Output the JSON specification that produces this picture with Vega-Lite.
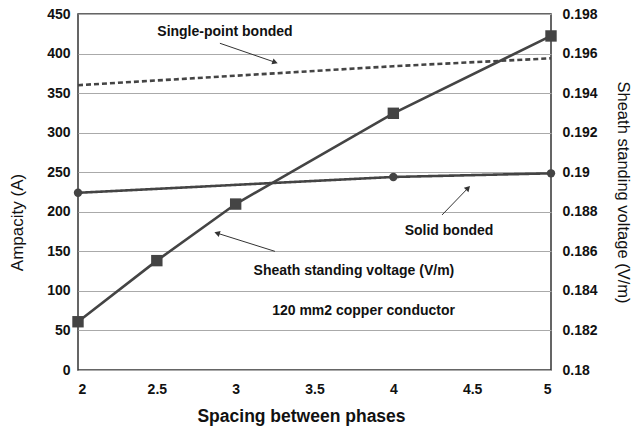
{
  "$schema": "https://vega.github.io/schema/vega-lite/v6.json",
  "width": 473,
  "height": 356,
  "autosize": "none",
  "padding": {"left": 78, "top": 14, "right": 81, "bottom": 60},
  "background": "white",
  "config": {
    "font": "Liberation Sans",
    "view": {"stroke": "#333333", "strokeWidth": 1.5},
    "axis": {"labelFont": "Liberation Sans", "labelFontWeight": "bold", "labelFontSize": 14, "labelColor": "#111", "labelOverlap": false, "titleFont": "Liberation Sans", "titleColor": "#111", "domain": false, "ticks": false}
  },
  "datasets": {
    "lines": [
      {"x": 2, "series": "Single-point bonded", "value": 360},
      {"x": 3, "series": "Single-point bonded", "value": 372},
      {"x": 4, "series": "Single-point bonded", "value": 384},
      {"x": 5, "series": "Single-point bonded", "value": 394},
      {"x": 2, "series": "Solid bonded", "value": 224},
      {"x": 4, "series": "Solid bonded", "value": 244},
      {"x": 5, "series": "Solid bonded", "value": 248.6}
    ],
    "volt": [
      {"x": 2, "v": 0.18244},
      {"x": 2.5, "v": 0.18553},
      {"x": 3, "v": 0.18839},
      {"x": 4, "v": 0.19298},
      {"x": 5, "v": 0.19689}
    ],
    "notes": [
      {"x": 2.932, "value": 427, "text": "Single-point bonded"},
      {"x": 4.353, "value": 176, "text": "Solid bonded"},
      {"x": 3.75, "value": 125, "text": "Sheath standing voltage (V/m)"},
      {"x": 3.811, "value": 74.6, "text": "120 mm2 copper conductor"}
    ],
    "arrows": [
      {"x": 2.90, "value": 413, "x2": 3.25, "value2": 389, "angle": 109},
      {"x": 4.309, "value": 196, "x2": 4.474, "value2": 230, "angle": 44},
      {"x": 3.249, "value": 150, "x2": 2.882, "value2": 173, "angle": 287}
    ]
  },
  "layer": [
    {
      "encoding": {
        "x": {"field": "x", "type": "quantitative", "scale": {"domain": [2, 5], "nice": false}, "axis": {"values": [2, 2.5, 3, 3.5, 4, 4.5, 5], "format": "~g", "grid": false, "labelPadding": 12, "title": "Spacing between phases", "titleFontSize": 17.5, "titleFontWeight": "bold", "titleX": 223, "titleY": 46, "titleBaseline": "middle", "titleAlign": "center"}},
        "y": {"field": "value", "type": "quantitative", "scale": {"domain": [0, 450], "nice": false}, "axis": {"values": [0, 50, 100, 150, 200, 250, 300, 350, 400, 450], "tickCount": 10, "grid": true, "gridColor": "#aaaaaa", "gridWidth": 1, "labelPadding": 8, "title": "Ampacity (A)", "titleFontSize": 17, "titleFontWeight": "normal", "titleX": -61, "titleY": 208, "titleBaseline": "middle", "titleAlign": "center"}}
      },
      "layer": [
        {
          "data": {"name": "lines"},
          "mark": {"type": "line", "color": "#444444", "strokeWidth": 2.6},
          "encoding": {
            "strokeDash": {"field": "series", "type": "nominal", "scale": {"domain": ["Single-point bonded", "Solid bonded"], "range": [[5, 3], [1, 0]]}, "legend": null}
          }
        },
        {
          "data": {"name": "lines"},
          "transform": [{"filter": "datum.series === 'Solid bonded'"}],
          "mark": {"type": "point", "shape": "circle", "filled": true, "color": "#444444", "size": 70, "opacity": 1}
        },
        {
          "data": {"name": "notes"},
          "mark": {"type": "text", "font": "Liberation Sans", "fontWeight": "bold", "fontSize": 14, "color": "#111", "align": "center", "baseline": "middle"},
          "encoding": {
            "text": {"field": "text"}
          }
        },
        {
          "data": {"name": "arrows"},
          "mark": {"type": "rule", "color": "#333333", "strokeWidth": 1},
          "encoding": {
            "x2": {"field": "x2"},
            "y2": {"field": "value2"}
          }
        },
        {
          "data": {"name": "arrows"},
          "mark": {"type": "point", "shape": "triangle-up", "filled": true, "color": "#333333", "size": 40, "opacity": 1},
          "encoding": {
            "x": {"field": "x2", "type": "quantitative"},
            "y": {"field": "value2", "type": "quantitative"},
            "angle": {"field": "angle", "type": "quantitative", "scale": null}
          }
        }
      ]
    },
    {
      "data": {"name": "volt"},
      "layer": [
        {"mark": {"type": "line", "color": "#444444", "strokeWidth": 2.6}},
        {"mark": {"type": "point", "shape": "square", "filled": true, "color": "#444444", "size": 130, "opacity": 1}}
      ],
      "encoding": {
        "x": {"field": "x", "type": "quantitative"},
        "y": {"field": "v", "type": "quantitative", "scale": {"domain": [0.18, 0.198], "nice": false, "zero": false}, "axis": {"orient": "right", "values": [0.18, 0.182, 0.184, 0.186, 0.188, 0.19, 0.192, 0.194, 0.196, 0.198], "format": "~g", "grid": false, "labelPadding": 11, "title": "Sheath standing voltage (V/m)", "titleFontSize": 16.5, "titleFontWeight": "normal", "titleX": 71, "titleY": 178, "titleBaseline": "middle", "titleAlign": "center", "titleAngle": 90}}
      }
    }
  ],
  "resolve": {"scale": {"y": "independent"}}
}
